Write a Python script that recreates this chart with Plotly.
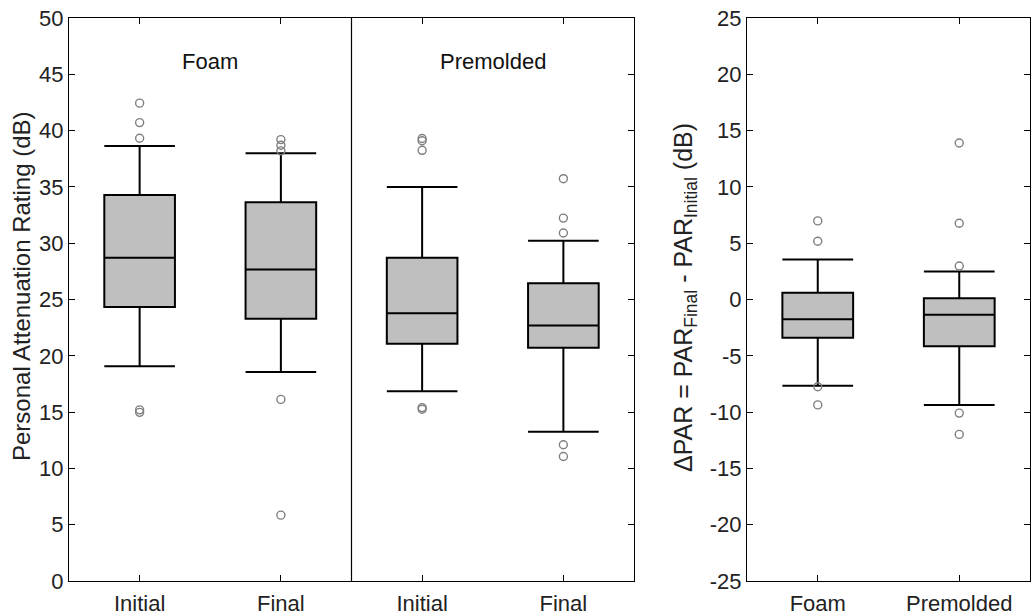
import plotly.graph_objects as go

# ---- data ----
left_labels = ["Initial", "Final", "Initial", "Final"]
left_q1 = [24.34, 23.28, 21.06, 20.71]
left_med = [28.70, 27.67, 23.78, 22.70]
left_q3 = [34.28, 33.63, 28.71, 26.44]
left_lo = [19.07, 18.56, 16.86, 13.26]
left_hi = [38.64, 37.99, 35.00, 30.21]
left_outliers = [
    [42.44, 40.71, 39.32, 15.2, 14.98],
    [39.2, 38.7, 38.2, 16.13, 5.85],
    [39.3, 39.1, 38.25, 15.4, 15.25],
    [35.73, 32.23, 30.91, 12.1, 11.06],
]
group_labels = ["Foam", "Premolded"]
left_yticks = list(range(0, 51, 5))

right_labels = ["Foam", "Premolded"]
right_q1 = [-3.39, -4.16]
right_med = [-1.75, -1.36]
right_q3 = [0.59, 0.12]
right_lo = [-7.65, -9.36]
right_hi = [3.56, 2.48]
right_outliers = [
    [6.98, 5.17, -7.75, -9.36],
    [13.9, 6.77, 2.97, -10.09, -11.98],
]
right_yticks = list(range(-25, 26, 5))

FONT = "Liberation Sans, Arial, Helvetica, sans-serif"
BOXFILL = "#bfbfbf"
OUTC = "#7f7f7f"
TXT = "#222222"

fig = go.Figure()

def add_boxes(xs, q1, med, q3, lo, hi, outs, xa, ya):
    for i, x in enumerate(xs):
        fig.add_trace(go.Box(
            x=[x], q1=[q1[i]], median=[med[i]], q3=[q3[i]],
            lowerfence=[lo[i]], upperfence=[hi[i]],
            width=0.5, whiskerwidth=1, boxpoints=False,
            fillcolor=BOXFILL, line=dict(color="black", width=2),
            xaxis=xa, yaxis=ya, showlegend=False, hoverinfo="skip"))
        fig.add_trace(go.Scatter(
            x=[x] * len(outs[i]), y=outs[i], mode="markers",
            marker=dict(symbol="circle-open", color=OUTC, size=8,
                        line=dict(width=1.4, color=OUTC)),
            xaxis=xa, yaxis=ya, showlegend=False, hoverinfo="skip"))

left_x = list(range(1, len(left_labels) + 1))
right_x = list(range(1, len(right_labels) + 1))
add_boxes(left_x, left_q1, left_med, left_q3, left_lo, left_hi, left_outliers, "x", "y")
add_boxes(right_x, right_q1, right_med, right_q3, right_lo, right_hi, right_outliers, "x2", "y2")

H = 616
W = 1033
ydom = [1 - 581 / H, 1 - 18 / H]

axis_common = dict(
    showline=True, linecolor="black", linewidth=1.2, mirror="ticks",
    ticks="inside", ticklen=6, tickwidth=1.2, tickcolor="black",
    showgrid=False, zeroline=False, automargin=False,
    tickfont=dict(family=FONT, size=22, color=TXT),
)

fig.update_layout(
    width=W, height=H,
    margin=dict(l=0, r=0, t=0, b=0, autoexpand=False),
    plot_bgcolor="white", paper_bgcolor="white",
    font=dict(family=FONT, color=TXT),
    xaxis=dict(domain=[69 / W, 634 / W], range=[0.5, 4.5], ticklabelstandoff=2,
               tickvals=left_x, ticktext=left_labels, anchor="y", **axis_common),
    yaxis=dict(domain=ydom, range=[0, 50], tickvals=left_yticks,
               ticktext=[str(v) for v in left_yticks], anchor="x", **axis_common),
    xaxis2=dict(domain=[747 / W, 1030 / W], range=[0.5, 2.5], ticklabelstandoff=2,
                tickvals=right_x, ticktext=right_labels, anchor="y2", **axis_common),
    yaxis2=dict(domain=ydom, range=[-25, 25], tickvals=right_yticks,
                ticktext=[str(v) for v in right_yticks], anchor="x2", **axis_common),
)

# divider between groups
fig.add_shape(type="line", xref="x", yref="y", x0=2.5, x1=2.5, y0=0, y1=50,
              line=dict(color="black", width=1.2))

# group labels
fig.add_annotation(x=1.5, y=46.1, xref="x", yref="y", text=group_labels[0],
                   showarrow=False, font=dict(family=FONT, size=22, color="#111"))
fig.add_annotation(x=3.5, y=46.1, xref="x", yref="y", text=group_labels[1],
                   showarrow=False, font=dict(family=FONT, size=22, color="#111"))

# axis titles
fig.add_annotation(x=21 / W, y=1 - 286 / H, xref="paper", yref="paper",
                   xanchor="center", yanchor="middle",
                   text="Personal Attenuation Rating (dB)", textangle=-90,
                   showarrow=False, font=dict(family=FONT, size=24, color=TXT))
fig.add_annotation(x=685 / W, y=1 - 298 / H, xref="paper", yref="paper",
                   xanchor="center", yanchor="middle",
                   text="ΔPAR = PAR<sub>Final</sub> - PAR<sub>Initial</sub> (dB)",
                   textangle=-90, showarrow=False,
                   font=dict(family=FONT, size=25, color=TXT))

fig.write_html("out.html")
